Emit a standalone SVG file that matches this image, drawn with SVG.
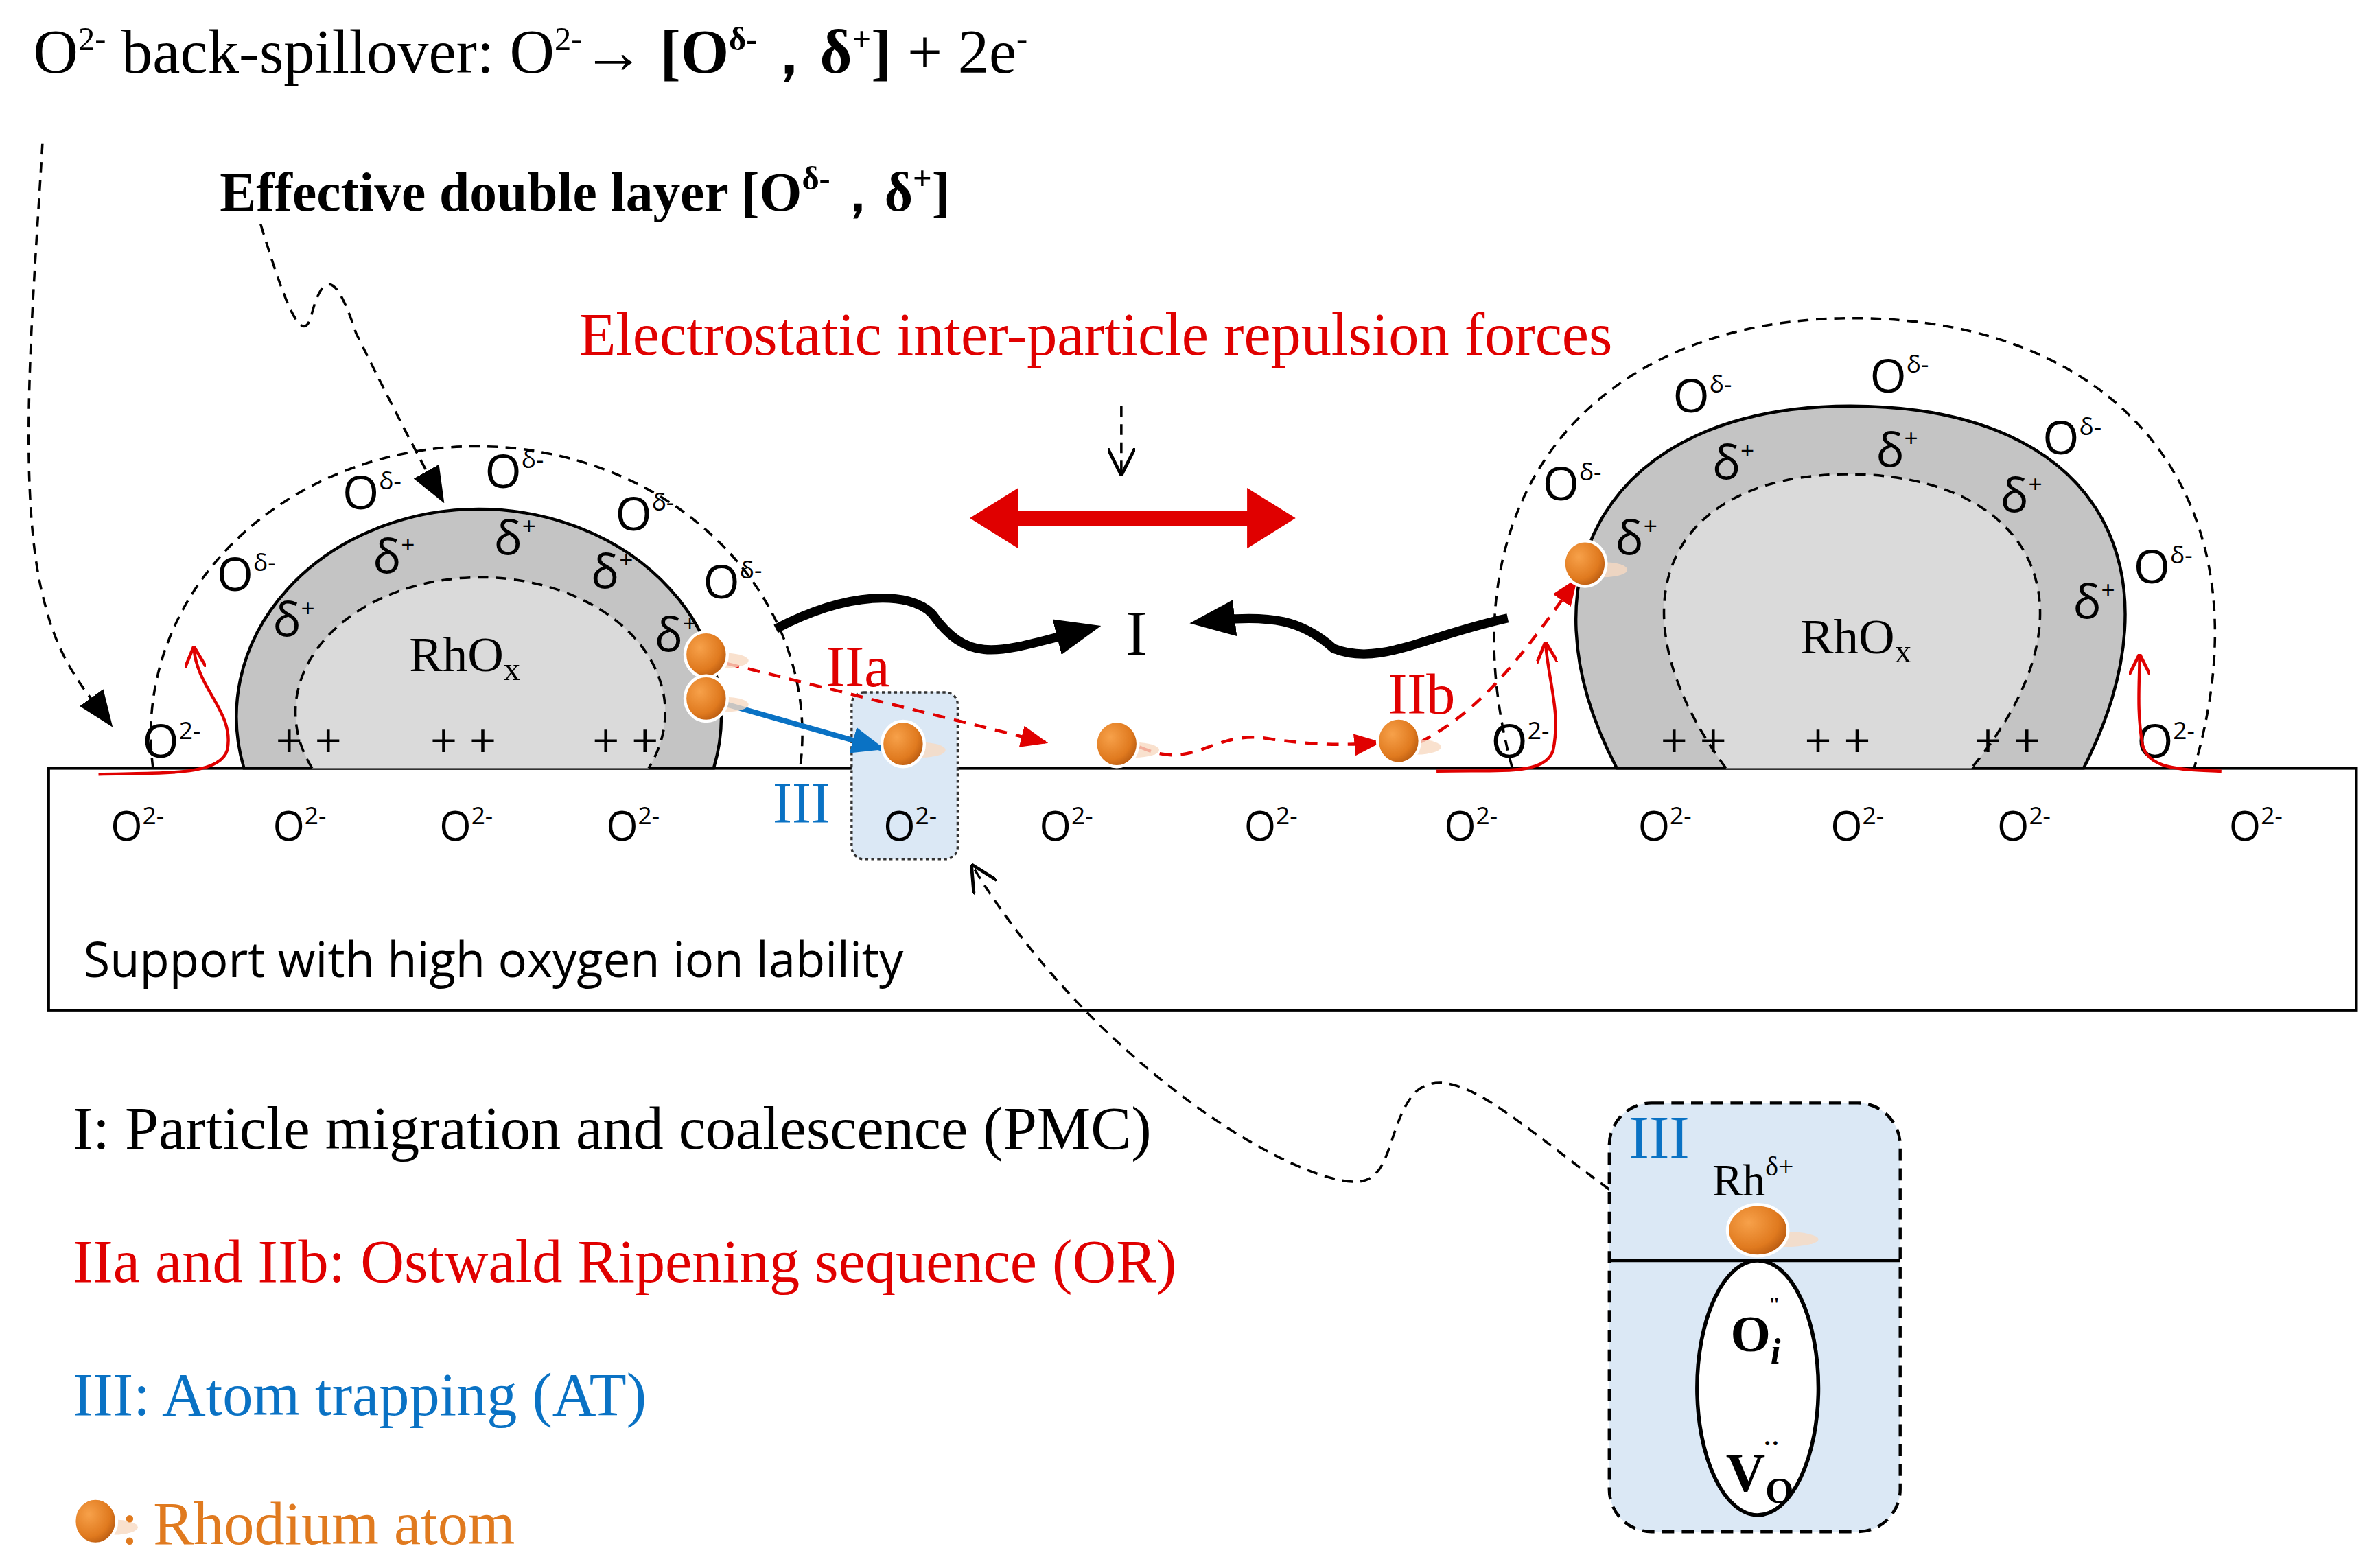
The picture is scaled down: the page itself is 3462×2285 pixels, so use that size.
<svg xmlns="http://www.w3.org/2000/svg" width="3462" height="2285" viewBox="0 0 3462 2285">
<defs>
<radialGradient id="ag" cx="0.35" cy="0.35" r="0.7"><stop offset="0" stop-color="#f7a14a"/><stop offset="0.7" stop-color="#e07a1f"/><stop offset="1" stop-color="#b85a10"/></radialGradient>
<marker id="bk" viewBox="0 0 10 10" refX="6" refY="5" markerWidth="30" markerHeight="30" orient="auto" markerUnits="userSpaceOnUse"><path d="M0,1 L10,5 L0,9 Z" fill="#000"/></marker>
<marker id="bkd" viewBox="0 0 10 10" refX="9" refY="5" markerWidth="24" markerHeight="24" orient="auto" markerUnits="userSpaceOnUse"><path d="M0,1 L10,5 L0,9 Z" fill="#000"/></marker>
<marker id="op" viewBox="0 0 10 10" refX="9" refY="5" markerWidth="18" markerHeight="18" orient="auto" markerUnits="userSpaceOnUse"><path d="M0,0 L10,5 L0,10" fill="none" stroke="#000" stroke-width="1.2"/></marker>
<marker id="rd" viewBox="0 0 10 10" refX="9" refY="5" markerWidth="18" markerHeight="18" orient="auto" markerUnits="userSpaceOnUse"><path d="M0,1 L10,5 L0,9 Z" fill="#e00000"/></marker>
<marker id="ro" viewBox="0 0 10 10" refX="9" refY="5" markerWidth="14" markerHeight="14" orient="auto" markerUnits="userSpaceOnUse"><path d="M0,0 L10,5 L0,10" fill="none" stroke="#e00000" stroke-width="1.5"/></marker>
<marker id="bl" viewBox="0 0 10 10" refX="9" refY="5" markerWidth="22" markerHeight="22" orient="auto" markerUnits="userSpaceOnUse"><path d="M0,1 L10,5 L0,9 Z" fill="#0a72c4"/></marker>
<g id="atom"><ellipse cx="12" cy="4" rx="16" ry="5" fill="#f8d9c2" opacity="0.8"/><ellipse cx="0" cy="0" rx="14" ry="15" fill="url(#ag)" stroke="#fff" stroke-width="2"/></g>
</defs>
<style>
.s{font-family:"Liberation Serif","Times New Roman",serif}
.a{font-family:"Open Sans","Liberation Sans",sans-serif}
.d{fill:none;stroke:#000;stroke-width:1.6;stroke-dasharray:7 5}
.rdd{fill:none;stroke:#e00000;stroke-width:2;stroke-dasharray:8 6}
.od{font-size:31px}
.sp{font-size:22px}
.sq{font-size:16px}
</style>
<rect width="3462" height="2285" fill="#fff"/>
<g transform="scale(2.2079)">
<g id="titles" class="s">
<text x="22" y="48" font-size="41">O<tspan class="sp" dy="-15">2-</tspan><tspan dy="15"> back-spillover: O</tspan><tspan class="sp" dy="-15">2-</tspan><tspan dy="15">→ </tspan><tspan font-weight="bold">[O</tspan><tspan class="sp" font-weight="bold" dy="-15">δ-</tspan><tspan font-weight="bold" dy="15">，δ</tspan><tspan class="sp" font-weight="bold" dy="-15">+</tspan><tspan font-weight="bold" dy="15">]</tspan> + 2e<tspan class="sp" dy="-15">-</tspan></text>
<text x="145" y="139" font-size="36" font-weight="bold">Effective double layer [O<tspan class="sp" dy="-14">δ-</tspan><tspan dy="14">，δ</tspan><tspan class="sp" dy="-14">+</tspan><tspan dy="14">]</tspan></text>
<text x="382" y="234" font-size="40" fill="#e00000">Electrostatic inter-particle repulsion forces</text>
</g>
<g id="support"><rect x="32" y="507" width="1523" height="160" fill="#fff" stroke="#000" stroke-width="2"/>
<text class="a" x="55" y="645" font-size="32">Support with high oxygen ion lability</text></g>
<g id="trapbox"><rect x="562" y="457" width="70" height="110" rx="8" fill="#dbe8f5" stroke="#333" stroke-width="1.5" stroke-dasharray="2 2"/></g>
<g id="o2row" class="a" font-size="27">
<text x="73" y="555">O<tspan class="sq" dy="-11">2-</tspan></text>
<text x="180" y="555">O<tspan class="sq" dy="-11">2-</tspan></text>
<text x="290" y="555">O<tspan class="sq" dy="-11">2-</tspan></text>
<text x="400" y="555">O<tspan class="sq" dy="-11">2-</tspan></text>
<text x="583" y="555">O<tspan class="sq" dy="-11">2-</tspan></text>
<text x="686" y="555">O<tspan class="sq" dy="-11">2-</tspan></text>
<text x="821" y="555">O<tspan class="sq" dy="-11">2-</tspan></text>
<text x="953" y="555">O<tspan class="sq" dy="-11">2-</tspan></text>
<text x="1081" y="555">O<tspan class="sq" dy="-11">2-</tspan></text>
<text x="1208" y="555">O<tspan class="sq" dy="-11">2-</tspan></text>
<text x="1318" y="555">O<tspan class="sq" dy="-11">2-</tspan></text>
<text x="1471" y="555">O<tspan class="sq" dy="-11">2-</tspan></text>
</g>
<g id="particleL">
<path d="M161,507 A160,137 0 1,1 471,507 Z" fill="#c4c4c4" stroke="#000" stroke-width="2"/>
<path d="M206,507 A122,89 0 1,1 428,507 Z" fill="#dadada"/>
<path d="M206,507 A122,89 0 1,1 428,507" class="d"/>
<path d="M101,507 A215,190 0 1,1 528,507" class="d"/>
<g class="a od"><text x="143" y="390">O<tspan class="sq" dy="-13">δ-</tspan></text><text x="226" y="336">O<tspan class="sq" dy="-13">δ-</tspan></text><text x="320" y="322">O<tspan class="sq" dy="-13">δ-</tspan></text><text x="406" y="350">O<tspan class="sq" dy="-13">δ-</tspan></text><text x="464" y="395">O<tspan class="sq" dy="-13">δ-</tspan></text>
<text x="180" y="420">δ<tspan class="sq" dy="-13">+</tspan></text><text x="246" y="378">δ<tspan class="sq" dy="-13">+</tspan></text><text x="326" y="366">δ<tspan class="sq" dy="-13">+</tspan></text><text x="390" y="388">δ<tspan class="sq" dy="-13">+</tspan></text><text x="432" y="430">δ<tspan class="sq" dy="-13">+</tspan></text>
<text x="182" y="500">+ +</text><text x="284" y="500">+ +</text><text x="391" y="500">+ +</text><text x="94" y="500">O<tspan class="sq" dy="-12">2-</tspan></text></g>
<text class="s" x="270" y="443" font-size="33">RhO<tspan font-size="22" dy="6">x</tspan></text>
</g>
<g id="particleR">
<path d="M1067,507 C1000,380 1060,268 1221,268 C1390,268 1440,380 1375,507 Z" fill="#c4c4c4" stroke="#000" stroke-width="2"/>
<path d="M1139,507 C1060,400 1100,313 1220,313 C1340,313 1390,400 1301,507 Z" fill="#dadada"/>
<path d="M1139,507 C1060,400 1100,313 1220,313 C1340,313 1390,400 1301,507" class="d"/>
<path d="M998,507 C950,330 1050,210 1223,210 C1400,210 1500,330 1448,507" class="d"/>
<g class="a od"><text x="1018" y="330">O<tspan class="sq" dy="-13">δ-</tspan></text><text x="1104" y="272">O<tspan class="sq" dy="-13">δ-</tspan></text><text x="1234" y="259">O<tspan class="sq" dy="-13">δ-</tspan></text><text x="1348" y="300">O<tspan class="sq" dy="-13">δ-</tspan></text><text x="1408" y="385">O<tspan class="sq" dy="-13">δ-</tspan></text>
<text x="1066" y="366">δ<tspan class="sq" dy="-13">+</tspan></text><text x="1130" y="316">δ<tspan class="sq" dy="-13">+</tspan></text><text x="1238" y="308">δ<tspan class="sq" dy="-13">+</tspan></text><text x="1320" y="338">δ<tspan class="sq" dy="-13">+</tspan></text><text x="1368" y="408">δ<tspan class="sq" dy="-13">+</tspan></text>
<text x="1096" y="500">+ +</text><text x="1191" y="500">+ +</text><text x="1303" y="500">+ +</text><text x="984" y="500">O<tspan class="sq" dy="-12">2-</tspan></text><text x="1410" y="500">O<tspan class="sq" dy="-12">2-</tspan></text></g>
<text class="s" x="1188" y="431" font-size="33">RhO<tspan font-size="22" dy="6">x</tspan></text>
</g>
<g id="connectors">
<path d="M28,95 C22,200 10,330 30,400 C40,440 60,460 73,478" class="d" marker-end="url(#bkd)"/>
<path d="M172,148 C185,190 198,230 205,210 C215,170 225,190 235,220 C255,260 275,300 292,330" class="d" marker-end="url(#bkd)"/>
<path d="M740,268 L740,312" class="d" marker-end="url(#op)"/>
<path d="M655,342 L840,342" stroke="#e00000" stroke-width="10" fill="none"/>
<path d="M640,342 L672,322 L672,362 Z M855,342 L823,322 L823,362 Z" fill="#e00000"/>
<path d="M512,415 C560,390 600,390 615,405 C640,440 660,430 715,416" fill="none" stroke="#000" stroke-width="6" marker-end="url(#bk)"/>
<path d="M995,408 C940,420 910,440 880,428 C860,410 840,405 797,410" fill="none" stroke="#000" stroke-width="6" marker-end="url(#bk)"/>
<path d="M480,438 L690,490" class="rdd" marker-end="url(#rd)"/>
<path d="M752,493 C790,510 800,480 840,488 C870,492 890,492 910,490" class="rdd" marker-end="url(#rd)"/>
<path d="M937,490 C975,470 1000,440 1040,383" class="rdd" marker-end="url(#rd)"/>
<path d="M480,465 L582,494" fill="none" stroke="#0a72c4" stroke-width="3.5" marker-end="url(#bl)"/>
<path d="M65,511 C110,510 145,512 150,495 C155,470 130,455 128,428" fill="none" stroke="#e00000" stroke-width="2" marker-end="url(#ro)"/>
<path d="M948,509 C990,508 1020,512 1025,495 C1030,470 1022,450 1020,425" fill="none" stroke="#e00000" stroke-width="2" marker-end="url(#ro)"/>
<path d="M1466,509 C1440,508 1418,508 1414,492 C1410,470 1412,450 1412,433" fill="none" stroke="#e00000" stroke-width="2" marker-end="url(#ro)"/>
<path d="M1062,785 C1000,740 960,700 935,720 C915,740 920,780 895,780 C850,780 720,700 642,572" class="d" marker-end="url(#op)"/>
</g>
<g id="labels" class="s">
<text x="750" y="432" font-size="42" text-anchor="middle">I</text>
<text x="545" y="453" font-size="38" fill="#e00000">IIa</text>
<text x="916" y="471" font-size="38" fill="#e00000">IIb</text>
<text x="510" y="543" font-size="38" fill="#0a72c4">III</text>
</g>
<g id="atoms"><use href="#atom" x="466" y="432"/><use href="#atom" x="466" y="461"/><use href="#atom" x="596" y="491"/><use href="#atom" x="737" y="491"/><use href="#atom" x="923" y="489"/><use href="#atom" x="1046" y="372"/></g>
<g id="inset">
<rect x="1062" y="728" width="192" height="283" rx="28" fill="#dbe8f5" stroke="#000" stroke-width="2" stroke-dasharray="8 5"/>
<line x1="1062" y1="832" x2="1254" y2="832" stroke="#000" stroke-width="2"/>
<ellipse cx="1160" cy="916" rx="40" ry="84" fill="#fff" stroke="#000" stroke-width="2.5"/>
<text class="s" x="1075" y="764" font-size="40" fill="#0a72c4">III</text>
<text class="s" x="1130" y="789" font-size="30">Rh<tspan font-size="18" dy="-13">δ+</tspan></text>
<ellipse cx="1178" cy="818" rx="22" ry="5" fill="#f8d9c2" opacity="0.8"/>
<ellipse cx="1160" cy="812" rx="20" ry="17" fill="url(#ag)" stroke="#fff" stroke-width="2"/>
<text class="s" x="1142" y="892" font-size="34" font-weight="bold">O<tspan font-style="italic" font-size="24" dy="8">i</tspan><tspan font-size="14" dx="-8" dy="-34">"</tspan></text>
<text class="s" x="1139" y="984" font-size="36" font-weight="bold">V<tspan font-size="24" dy="8">O</tspan><tspan font-size="16" dx="-20" dy="-34">··</tspan></text>
</g>
<g id="legend" class="s" font-size="40">
<text x="48" y="758">I: Particle migration and coalescence (PMC)</text>
<text x="48" y="846" fill="#e00000">IIa and IIb: Ostwald Ripening sequence (OR)</text>
<text x="48" y="934" fill="#0a72c4">III: Atom trapping (AT)</text>
<use href="#atom" x="63" y="1004"/>
<text x="80" y="1019" fill="#e07a1f">: Rhodium atom</text>
</g>
</g>
</svg>
